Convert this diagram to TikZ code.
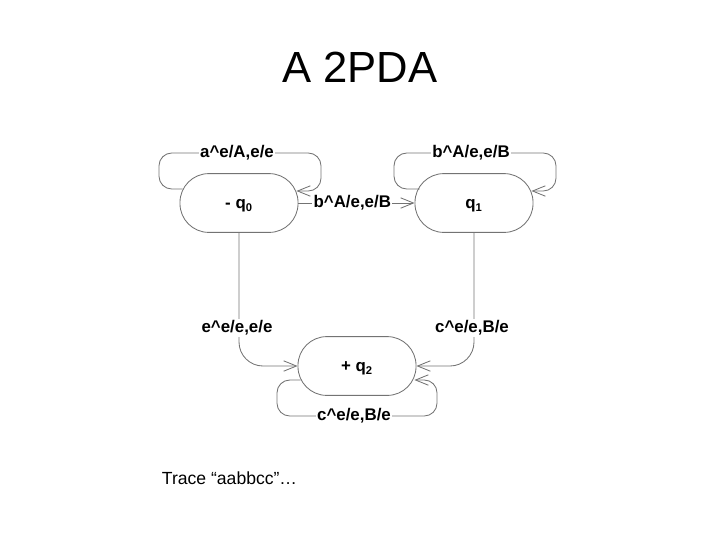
\documentclass[tikz,border=0pt]{standalone}
\usepackage{fontspec}
\setmainfont{Liberation Sans}
\usetikzlibrary{arrows.meta}

\begin{document}
\begin{tikzpicture}[x=0.025cm,y=-0.025cm,
  state/.style={draw=black!55,line width=0.6pt,rounded corners=0.72cm,
    minimum width=2.95cm,minimum height=1.47cm,text height=8.5pt,text depth=0pt,
    font=\fontsize{12}{14}\selectfont\bfseries},
  edge/.style={draw=black!55,line width=0.6pt,
    -{Straight Barb[length=3.2mm,width=2.6mm]}},
  lab/.style={fill=white,inner sep=1pt,font=\fontsize{12}{14}\selectfont\bfseries}]
				\useasboundingbox (0,0) rectangle (720,540);
				%
				\node[font=\fontsize{31}{36}\selectfont] (title) at (360,67) {A 2PDA};
				%
				% states
				\node[state] (q0) at (239,203) {- q\textsubscript{0}};
				\node[state] (q1) at (474,203) {q\textsubscript{1}};
				\node[state] (q2) at (357,366) {+ q\textsubscript{2}};
				%
				% loops
				\draw[edge,rounded corners=0.32cm] ([shift={(3,-14)}]q0.west) -- (159,189) -- (159,153)
				  -- (321,153) -- (321,191) -- ([shift={(-2,-12)}]q0.east);
				\draw[edge,rounded corners=0.32cm] ([shift={(5,-14)}]q1.west) -- (394,189) -- (394,153)
				  -- (556,153) -- (556,191) -- ([shift={(-2,-12)}]q1.east);
				\draw[edge,rounded corners=0.32cm] ([shift={(3,14)}]q2.west) -- (277,380) -- (277,416)
				  -- (437,416) -- (437,380) -- ([shift={(-2,14)}]q2.east);
				\node[lab] (l00) at (237,153) {a\textasciicircum e/A,e/e};
				\node[lab] (l11) at (471,153) {b\textasciicircum A/e,e/B};
				\node[lab] (l22) at (354,416) {c\textasciicircum e/e,B/e};
				%
				% moves between states
				\draw[edge] (q0) -- node[lab,xshift=-3] (l01) {b\textasciicircum A/e,e/B} (q1);
				\draw[edge,rounded corners=0.6cm] (q0.south) |- (q2.west);
				\draw[edge,rounded corners=0.6cm] (q1.south) |- (q2.east);
				\node[lab] (l02) at (237,328) {e\textasciicircum e/e,e/e};
				\node[lab] (l12) at (472,328) {c\textasciicircum e/e,B/e};
				%
				\node[anchor=west,font=\fontsize{12.5}{15}\selectfont] (trace) at (157,478) {Trace “aabbcc”…};
			\end{tikzpicture}
\end{document}
